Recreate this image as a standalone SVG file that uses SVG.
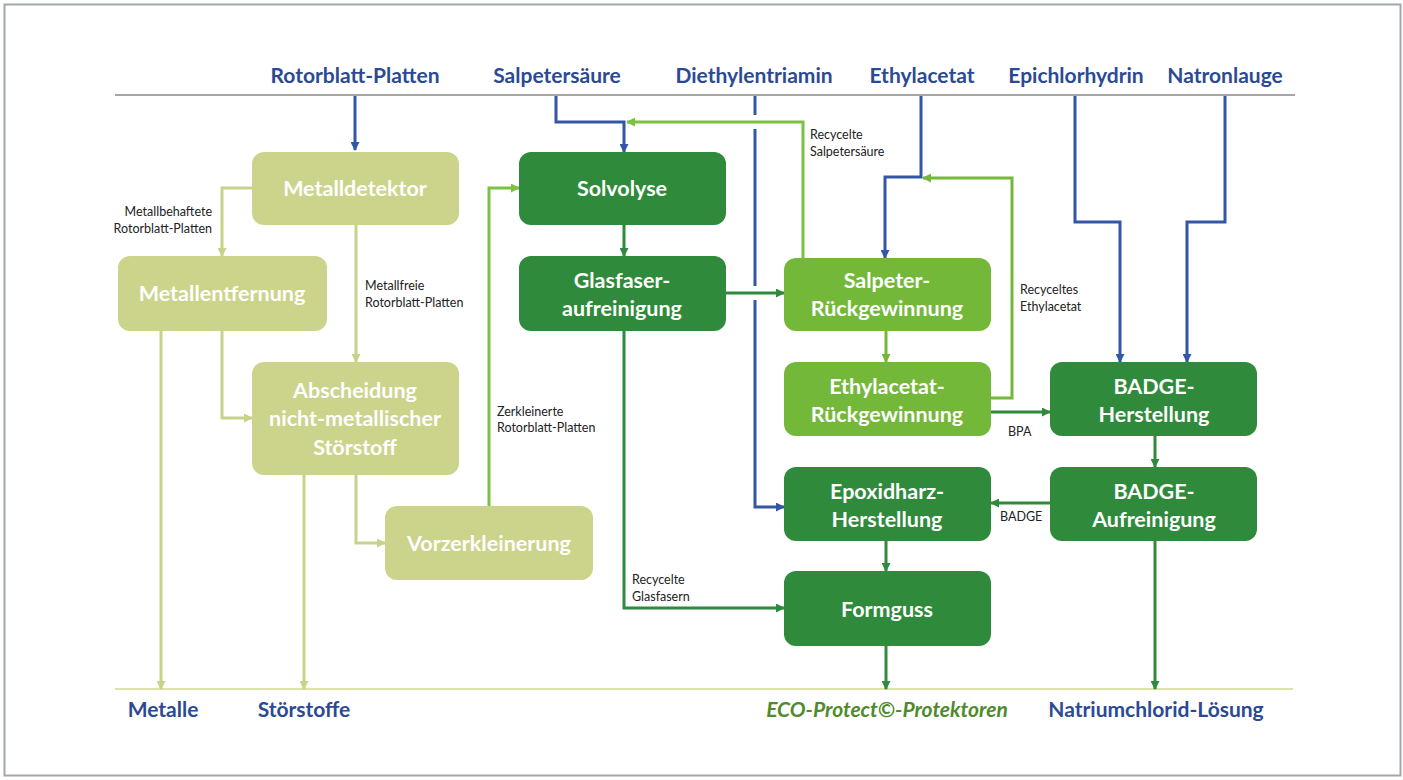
<svg xmlns="http://www.w3.org/2000/svg" width="1403" height="780" viewBox="0 0 1403 780">
<style>
.box text{font-family:Lato,"Liberation Sans",sans-serif;font-weight:700;font-size:21.5px;fill:#fff;text-anchor:middle}
.olive{fill:#ccd48c}
.dark{fill:#2f8a3b}
.mid{fill:#74b83a}
.lbl{font-family:Lato,"Liberation Sans",sans-serif;font-size:12.5px;fill:#222}
.io{font-family:Lato,"Liberation Sans",sans-serif;font-weight:700;font-size:21px;fill:#2c4a94;text-anchor:middle}
.eco{fill:#4f8a2b;font-style:italic}
.c{fill:none;stroke-width:3}
.b{stroke:#3457a5}
.o{stroke:#c8d38a}
.g{stroke:#2f8a3b}
.l{stroke:#7cc242}
.m{stroke:#74b83a}
</style>
<defs>
<marker id="ab" markerUnits="userSpaceOnUse" markerWidth="9" markerHeight="9" refX="8" refY="4.5" orient="auto"><path d="M0,0 L9,4.5 L0,9 z" fill="#3457a5"/></marker>
<marker id="ao" markerUnits="userSpaceOnUse" markerWidth="9" markerHeight="9" refX="8" refY="4.5" orient="auto"><path d="M0,0 L9,4.5 L0,9 z" fill="#c8d38a"/></marker>
<marker id="ag" markerUnits="userSpaceOnUse" markerWidth="9" markerHeight="9" refX="8" refY="4.5" orient="auto"><path d="M0,0 L9,4.5 L0,9 z" fill="#2f8a3b"/></marker>
<marker id="al" markerUnits="userSpaceOnUse" markerWidth="9" markerHeight="9" refX="8" refY="4.5" orient="auto"><path d="M0,0 L9,4.5 L0,9 z" fill="#7cc242"/></marker>
<marker id="am" markerUnits="userSpaceOnUse" markerWidth="9" markerHeight="9" refX="8" refY="4.5" orient="auto"><path d="M0,0 L9,4.5 L0,9 z" fill="#74b83a"/></marker>
</defs>
<rect x="0" y="0" width="1403" height="780" fill="#fff"/>
<rect x="4.5" y="4.5" width="1396" height="771" fill="none" stroke="#a0a8ae" stroke-width="2"/>
<line x1="115" y1="95" x2="1295" y2="95" stroke="#a6a6a6" stroke-width="2"/>
<line x1="115" y1="689" x2="1293" y2="689" stroke="#dde3aa" stroke-width="2"/>

<g id="inputs">
<text class="io" x="355" y="83">Rotorblatt-Platten</text>
<text class="io" x="557" y="83">Salpetersäure</text>
<text class="io" x="754" y="83">Diethylentriamin</text>
<text class="io" x="922" y="83">Ethylacetat</text>
<text class="io" x="1076" y="83">Epichlorhydrin</text>
<text class="io" x="1225" y="83">Natronlauge</text>
</g>
<g id="outputs">
<text class="io" x="163" y="717">Metalle</text>
<text class="io" x="304" y="717">Störstoffe</text>
<text class="io eco" x="887" y="717">ECO-Protect©-Protektoren</text>
<text class="io" x="1156" y="717">Natriumchlorid-Lösung</text>
</g>

<g id="connectors">
<path class="c b" d="M355,96 V150" marker-end="url(#ab)"/>
<path class="c b" d="M556,96 V122 H624 V152" marker-end="url(#ab)"/>
<path class="c l" d="M803,258 V122 H627" marker-end="url(#al)"/>
<path class="c b" d="M755,96 V115"/>
<path class="c b" d="M755,129 V286"/>
<path class="c b" d="M755,300 V507 H784" marker-end="url(#ab)"/>
<path class="c b" d="M921,96 V177 H885 V258" marker-end="url(#ab)"/>
<path class="c m" d="M991,398 H1012 V178 H923" marker-end="url(#am)"/>
<path class="c b" d="M1075,96 V222 H1120 V362" marker-end="url(#ab)"/>
<path class="c b" d="M1225,96 V222 H1187 V362" marker-end="url(#ab)"/>
<path class="c o" d="M252,188 H222 V256" marker-end="url(#ao)"/>
<path class="c o" d="M356,225 V362" marker-end="url(#ao)"/>
<path class="c o" d="M222,331 V418 H252" marker-end="url(#ao)"/>
<path class="c o" d="M161,331 V689" marker-end="url(#ao)"/>
<path class="c o" d="M304,475 V689" marker-end="url(#ao)"/>
<path class="c o" d="M356,475 V543 H385" marker-end="url(#ao)"/>
<path class="c l" d="M489,506 V188 H519" marker-end="url(#al)"/>
<path class="c g" d="M624,225 V256" marker-end="url(#ag)"/>
<path class="c g" d="M726,293 H784" marker-end="url(#ag)"/>
<path class="c g" d="M624,331 V608 H784" marker-end="url(#ag)"/>
<path class="c m" d="M886,331 V362" marker-end="url(#am)"/>
<path class="c g" d="M991,412 H1050" marker-end="url(#ag)"/>
<path class="c g" d="M1155,436 V467" marker-end="url(#ag)"/>
<path class="c g" d="M1050,503 H991" marker-end="url(#ag)"/>
<path class="c g" d="M886,541 V571" marker-end="url(#ag)"/>
<path class="c g" d="M886,646 V689" marker-end="url(#ag)"/>
<path class="c g" d="M1155,541 V689" marker-end="url(#ag)"/>
<text class="lbl" x="212" y="216" text-anchor="end">Metallbehaftete</text>
<text class="lbl" x="212" y="233" text-anchor="end">Rotorblatt-Platten</text>
<text class="lbl" x="365" y="290">Metallfreie</text>
<text class="lbl" x="365" y="307">Rotorblatt-Platten</text>
<text class="lbl" x="497" y="416">Zerkleinerte</text>
<text class="lbl" x="497" y="432">Rotorblatt-Platten</text>
<text class="lbl" x="810" y="139">Recycelte</text>
<text class="lbl" x="810" y="156">Salpetersäure</text>
<text class="lbl" x="1020" y="294">Recyceltes</text>
<text class="lbl" x="1020" y="311">Ethylacetat</text>
<text class="lbl" x="1008" y="436">BPA</text>
<text class="lbl" x="1000" y="521">BADGE</text>
<text class="lbl" x="632" y="584">Recycelte</text>
<text class="lbl" x="632" y="601">Glasfasern</text>
</g>

<g id="metalldetektor" class="box"><rect class="olive" x="252" y="152" width="207" height="73" rx="12"/><text x="355" y="196">Metalldetektor</text></g>
<g id="metallentfernung" class="box"><rect class="olive" x="118" y="256" width="209" height="75" rx="12"/><text x="222" y="301">Metallentfernung</text></g>
<g id="abscheidung" class="box"><rect class="olive" x="252" y="362" width="207" height="113" rx="12"/><text x="355" y="398">Abscheidung</text><text x="355" y="426">nicht-metallischer</text><text x="355" y="455">Störstoff</text></g>
<g id="vorzerkleinerung" class="box"><rect class="olive" x="385" y="506" width="208" height="74" rx="12"/><text x="489" y="551">Vorzerkleinerung</text></g>
<g id="solvolyse" class="box"><rect class="dark" x="519" y="152" width="207" height="73" rx="12"/><text x="622" y="196">Solvolyse</text></g>
<g id="glasfaser" class="box"><rect class="dark" x="519" y="256" width="207" height="75" rx="12"/><text x="622" y="288">Glasfaser-</text><text x="622" y="316">aufreinigung</text></g>
<g id="salpeter" class="box"><rect class="mid" x="784" y="258" width="207" height="73" rx="12"/><text x="887" y="288">Salpeter-</text><text x="887" y="316">Rückgewinnung</text></g>
<g id="ethylacetat" class="box"><rect class="mid" x="784" y="362" width="207" height="74" rx="12"/><text x="887" y="394">Ethylacetat-</text><text x="887" y="422">Rückgewinnung</text></g>
<g id="badge-herstellung" class="box"><rect class="dark" x="1050" y="362" width="207" height="74" rx="12"/><text x="1154" y="394">BADGE-</text><text x="1154" y="422">Herstellung</text></g>
<g id="epoxidharz" class="box"><rect class="dark" x="784" y="467" width="207" height="74" rx="12"/><text x="887" y="499">Epoxidharz-</text><text x="887" y="527">Herstellung</text></g>
<g id="badge-aufreinigung" class="box"><rect class="dark" x="1050" y="467" width="207" height="74" rx="12"/><text x="1154" y="499">BADGE-</text><text x="1154" y="527">Aufreinigung</text></g>
<g id="formguss" class="box"><rect class="dark" x="784" y="571" width="207" height="75" rx="12"/><text x="887" y="617">Formguss</text></g>
</svg>
